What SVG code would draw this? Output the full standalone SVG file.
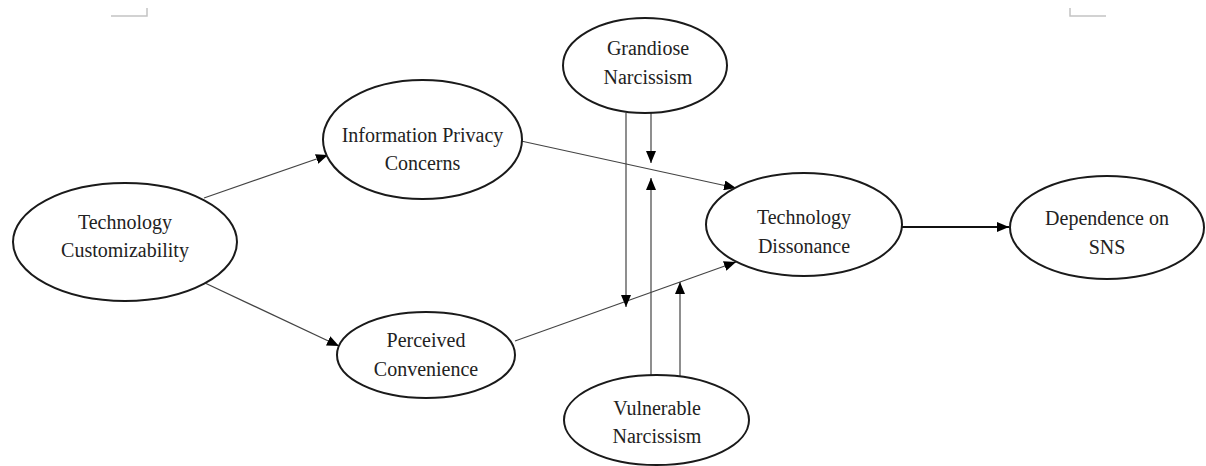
<svg xmlns="http://www.w3.org/2000/svg" width="1206" height="466" viewBox="0 0 1206 466">
  <style>
    .node ellipse { fill: #ffffff; stroke: #1a1a1a; stroke-width: 2; }
    .node text { font-family: 'Liberation Serif', 'DejaVu Serif', serif; font-size: 20px; fill: #222222; text-anchor: middle; }
    .edge { stroke: #444444; stroke-width: 1.2; fill: none; marker-end: url(#arrow); }
    .edge.bold { stroke: #111111; stroke-width: 2; }
    .crop { stroke: #c4c4c4; stroke-width: 1.5; fill: none; }
  </style>
  <defs>
    <marker id="arrow" viewBox="0 0 12 10" refX="12" refY="5" markerWidth="12" markerHeight="10" markerUnits="userSpaceOnUse" orient="auto">
      <path d="M0,0 L12,5 L0,10 Z" fill="#000000"/>
    </marker>
  </defs>
  <rect width="1206" height="466" fill="#ffffff"/>

  <!-- page corner marks -->
  <g id="corner-marks">
    <path class="crop" d="M111,16 H147 V8"/>
    <path class="crop" d="M1106,16 H1070 V8"/>
  </g>

  <!-- connectors -->
  <g id="connectors">
    <line class="edge" x1="204" y1="198" x2="328" y2="155"/>
    <line class="edge" x1="205" y1="283" x2="339" y2="346"/>
    <line class="edge" x1="521" y1="141" x2="736" y2="188"/>
    <line class="edge" x1="515" y1="341" x2="736" y2="262"/>
    <line class="edge bold" x1="902" y1="227" x2="1009" y2="227"/>
    <line class="edge" x1="626" y1="113" x2="626" y2="307"/>
    <line class="edge" x1="651" y1="113" x2="651" y2="163"/>
    <line class="edge" x1="651" y1="376" x2="651" y2="178"/>
    <line class="edge" x1="680" y1="376" x2="680" y2="282"/>
  </g>

  <g id="technology-customizability" class="node">
    <ellipse cx="125" cy="242" rx="112" ry="59"/>
    <text x="125" y="229">Technology</text>
    <text x="125" y="257">Customizability</text>
  </g>

  <g id="information-privacy-concerns" class="node">
    <ellipse cx="422.5" cy="139.5" rx="99.5" ry="59.5"/>
    <text x="422.5" y="142">Information Privacy</text>
    <text x="422.5" y="170">Concerns</text>
  </g>

  <g id="perceived-convenience" class="node">
    <ellipse cx="426" cy="355" rx="89" ry="43"/>
    <text x="426" y="347">Perceived</text>
    <text x="426" y="376">Convenience</text>
  </g>

  <g id="grandiose-narcissism" class="node">
    <ellipse cx="645" cy="65.5" rx="82" ry="47.5"/>
    <text x="648" y="55">Grandiose</text>
    <text x="648" y="84">Narcissism</text>
  </g>

  <g id="vulnerable-narcissism" class="node">
    <ellipse cx="656.5" cy="420" rx="92.5" ry="45"/>
    <text x="657" y="415">Vulnerable</text>
    <text x="657" y="443">Narcissism</text>
  </g>

  <g id="technology-dissonance" class="node">
    <ellipse cx="804" cy="224.5" rx="98" ry="51.5"/>
    <text x="804" y="224">Technology</text>
    <text x="804" y="253">Dissonance</text>
  </g>

  <g id="dependence-on-sns" class="node">
    <ellipse cx="1107" cy="227.5" rx="97" ry="51.5"/>
    <text x="1107" y="225">Dependence on</text>
    <text x="1107" y="254">SNS</text>
  </g>
</svg>
